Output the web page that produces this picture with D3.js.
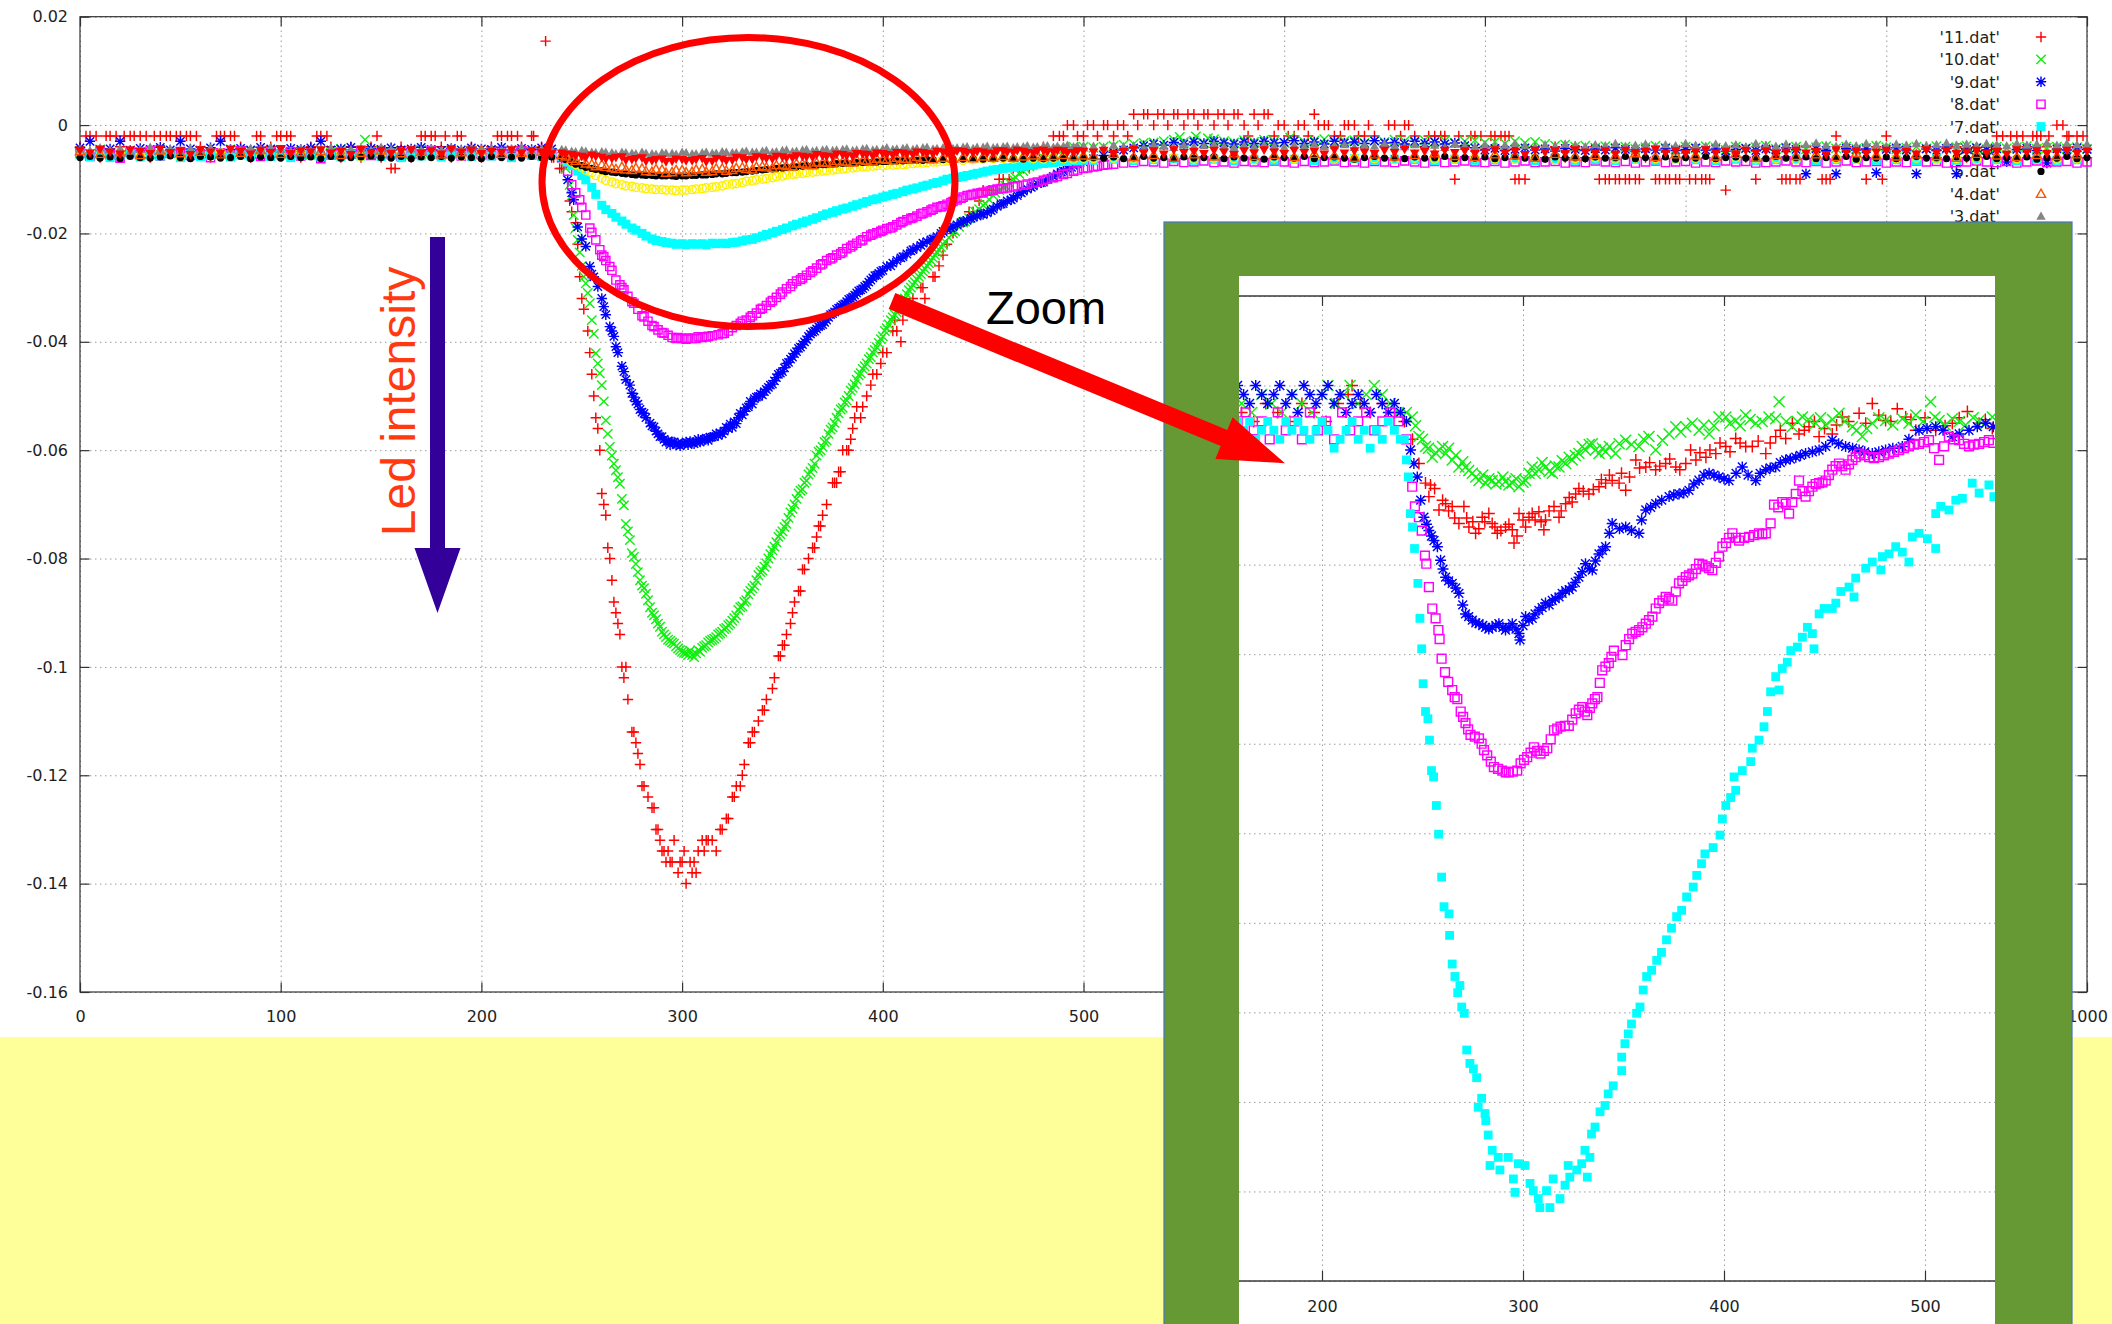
<!DOCTYPE html>
<html><head><meta charset="utf-8">
<script src="https://cdn.jsdelivr.net/npm/d3@7"></script>
<style>
html,body{margin:0;padding:0;background:#fff;}
svg{display:block;}
</style></head><body>
<svg id="chart" width="2112" height="1324"></svg>
<script>
// ================= DATA =================
const X_TICKS=[0,100,200,300,400,500,600,700,800,900,1000];
const X_TICK_LABELS=["0","100","200","300","400","500","600","700","800","900","1000"];
const Y_TICKS=[0.02,0,-0.02,-0.04,-0.06,-0.08,-0.1,-0.12,-0.14,-0.16];
const Y_TICK_LABELS=["0.02","0","-0.02","-0.04","-0.06","-0.08","-0.1","-0.12","-0.14","-0.16"];
const INSET_X_TICKS=[200,300,400,500];
const INSET_X_TICK_LABELS=["200","300","400","500"];
const INSET_Y_TICKS=[-0.002,-0.003,-0.004,-0.005,-0.006,-0.007,-0.008,-0.009,-0.010,-0.011,-0.012,-0.013];
const SERIES_NAMES=["'11.dat'","'10.dat'","'9.dat'","'8.dat'","'7.dat'","'6.dat'","'5.dat'","'4.dat'","'3.dat'","'2.dat'"];

// ---- '11.dat' (y values sampled every 5 in x) ----
const S11_PRE=[-.004,-.002,-.006,-.002,-.004,-.002,-.002,-.006,-.002,-.002,
-.002,-.002,-.004,-.006,-.002,-.002,-.004,-.006,-.002,-.004,
-.002,-.002,-.006,-.004,-.002,-.004,-.006,-.004,-.006,-.004,
-.006,-.008,-.004,-.006,-.002,-.002,-.004,-.006,-.002,-.004,
-.006,-.004,-.002,-.002,-.004,-.002,-.004,-.006];
const S11_DIP=[-.008,-.016,-.032,-.046,-.068,-.084,-.1,-.112,-.122,-.126,
-.134,-.136,-.136,-.138,-.132,-.132,-.13,-.124,-.12,-.112,
-.108,-.104,-.096,-.09,-.082,-.078,-.072,-.066,-.06,-.056,
-.052,-.046,-.042,-.038,-.036,-.032,-.03,-.028,-.024,-.02,
-.018,-.016,-.012,-.012,-.01,-.008,-.008,-.006,-.004,-.002,
-.002,0,-.002];
const S11_POST=[0,0,-.002,0,.002,.002,0,.002,.002,0,
.002,.002,0,.002,.002,0,.002,.002,-.002,0,
-.002,0,.002,0,-.002,0,0,-.002,-.002,-.004,
0,0,-.002,-.004,-.002,-.002,-.01,-.004,-.002,-.004,
-.002,-.002,-.01,-.01,-.004,-.006,-.004,-.006,-.004,-.006,
-.004,-.01,-.01,-.01,-.01,-.006,-.01,-.01,-.01,-.004,
-.01,-.01,-.006,-.012,-.004,-.006,-.01,-.004,-.006,-.01,
-.01,-.004,-.006,-.01,-.002,-.004,-.006,-.01,-.004,-.002,
-.006,-.004,-.006,-.004,-.006,-.004,-.004,-.006,-.006,-.004,
-.002,-.006,-.002,-.004,-.002,-.004,0,-.002,-.004,-.006];
const S11_EXTRA=[[232,.0155],[3,-.002],[8,-.002],[13,-.002],[18,-.002],[22,-.002],[27,-.002],[33,-.002],[37,-.002],[43,-.002],[48,-.002],[53,-.002],[58,-.002],[68,-.002],[72,-.002],[77,-.002],[88,-.002],[98,-.002],[103,-.002],[118,-.002],[123,-.002],[148,-.002],[157,-.008],[172,-.002],[177,-.002],[182,-.002],[188,-.002],[208,-.002],[213,-.002],[218,-.002],[226,-.002],
[236,-.006],[239,-.008],[244,-.014],[247,-.018],[248,-.022],[249,-.028],[251,-.034],[253,-.038],[254,-.042],[256,-.05],[257,-.054],[258,-.056],[259,-.06],[261,-.07],[262,-.072],[263,-.078],[264,-.08],[266,-.088],[267,-.09],[268,-.092],[269,-.094],[271,-.102],[272,-.1],[273,-.106],[276,-.112],[277,-.114],[278,-.116],[279,-.118],[281,-.122],[283,-.124],[286,-.126],[287,-.13],[288,-.13],[289,-.132],[291,-.134],[292,-.136],[293,-.134],[294,-.136],[296,-.132],[298,-.138],[299,-.136],[301,-.134],[302,-.14],[304,-.136],[306,-.136],[307,-.138],[308,-.134],[311,-.134],[312,-.132],[313,-.132],[317,-.134],[319,-.13],[322,-.128],[323,-.128],[326,-.124],[327,-.122],[329,-.122],[331,-.118],[333,-.114],[334,-.114],[336,-.112],[338,-.11],[341,-.108],[342,-.106],[346,-.102],[348,-.098],[349,-.098],[351,-.096],[352,-.094],[354,-.092],[356,-.088],[358,-.086],[359,-.086],[361,-.082],[363,-.08],[366,-.078],[367,-.076],[368,-.074],[369,-.074],[372,-.07],[376,-.066],[377,-.066],[378,-.064],[379,-.064],[382,-.06],[383,-.06],[384,-.058],[386,-.054],[387,-.052],[389,-.054],[392,-.05],[394,-.048],[397,-.046],[399,-.044],[402,-.042],[406,-.036],[407,-.038],[409,-.04],[419,-.03],[421,-.032],[426,-.028],[428,-.026],[432,-.022],[443,-.016],[448,-.014],[453,-.012],[458,-.01],[463,-.01],[468,-.008],[473,-.008],[478,-.006],
[488,-.002],[492,0],[497,-.002],[502,0],[507,-.002],[512,0],[517,0],[522,-.002],[527,0],[532,.002],[537,.002],[542,0],[547,.002],[552,.002],[557,0],[562,.002],[567,.002],[572,0],[577,.002],[582,-.002],[587,0],[592,.002],[597,0],[602,-.002],[607,0],[612,-.002],[617,0],[622,0],[628,-.002],[632,0],[637,-.002],[642,0],[652,0],[658,-.002],[662,0],[672,-.002],[678,-.002],[687,-.002],[693,-.002],[698,-.002],[703,-.002],[708,-.002],[712,-.002],[717,-.01],[757,-.01],[762,-.01],[767,-.01],[772,-.01],[777,-.01],[787,-.01],[792,-.01],[797,-.01],[802,-.01],[808,-.01],[812,-.01],[848,-.01],[852,-.01],[857,-.01],[868,-.01],[872,-.01],[898,-.01],
[958,-.002],[962,-.002],[968,-.002],[973,-.002],[977,-.002],[981,-.002],[988,0],[991,-.002],[995,-.002],[998,-.002]];

// ---- '10.dat' ----
const S10_PRE=[-.0048,-.0053,-.0045,-.0051,-.0056,-.0047,-.005,-.0054,-.0046,-.0052,
-.0049,-.0055,-.0047,-.005,-.0053,-.0045,-.0051,-.0048,-.0054,-.005,
-.0046,-.0052,-.0049,-.0055,-.0047,-.0051,-.0044,-.0053,-.0049,-.0056,
-.0047,-.0051,-.0048,-.0054,-.0046,-.005,-.0053,-.0048,-.0051,-.0047,
-.0055,-.0049,-.0052,-.0046,-.005,-.0053,-.0048,-.0051];
const S10_DIP=[-.006,-.013,-.026,-.036,-.048,-.061,-.069,-.079,-.085,-.09,
-.0935,-.0955,-.0972,-.0978,-.0965,-.095,-.0935,-.0915,-.0888,-.0855,
-.0822,-.0785,-.075,-.0708,-.0672,-.0633,-.0594,-.0558,-.0522,-.0485,
-.045,-.042,-.039,-.0355,-.0325,-.0295,-.027,-.0245,-.022,-.02,
-.018,-.0165,-.0148,-.013,-.0115,-.01,-.0085,-.007,-.006,-.005,
-.0045,-.004,-.004];
const S10_POST=[-.0042,-.004,-.0038,-.0036,-.0035,-.0033,-.0032,-.003,-.0027,-.0031,
-.0029,-.0033,-.0026,-.003,-.0032,-.0028,-.0031,-.0027,-.003,-.0033,
-.0028,-.0031,-.0029,-.0026,-.0032,-.003,-.0028,-.0033,-.0029,-.0031,
-.0027,-.003,-.0032,-.0028,-.0031,-.0029,-.0033,-.003,-.0028,-.0032,
-.0031,-.0034,-.003,-.0033,-.0031,-.0035,-.0038,-.0036,-.004,-.0038,
-.0042,-.0039,-.0043,-.004,-.0044,-.0041,-.0038,-.0042,-.0045,-.004,
-.0043,-.0039,-.0042,-.0046,-.004,-.0043,-.0041,-.0038,-.0044,-.0042,
-.004,-.0045,-.0041,-.0039,-.0043,-.004,-.0044,-.0042,-.0038,-.0041,
-.0045,-.0042,-.004,-.0043,-.0039,-.0044,-.0041,-.0038,-.0042,-.0045,
-.004,-.0043,-.0041,-.0039,-.0044,-.0042,-.004,-.0043,-.0041,-.0044];
const S10_EXTRA=[[142,-.0027],[548,-.0022],[556,-.0021],[562,-.0024],[603,-.0023],
[242,-.008],[244,-.011],[246,-.0166],[247,-.019],[248,-.0212],[249,-.0235],[251,-.028],[252,-.0292],[253,-.031],[254,-.0329],[256,-.0385],[257,-.0421],[258,-.044],[259,-.0458],[261,-.051],[262,-.0545],[263,-.057],[264,-.0594],[266,-.0625],[267,-.0637],[268,-.065],[269,-.0662],[271,-.0702],[272,-.0736],[273,-.075],[274,-.0766],[276,-.0797],[277,-.081],[278,-.0825],[279,-.084],[281,-.0855],[282,-.0865],[283,-.0877],[284,-.089],[286,-.0905],[287,-.0912],[288,-.092],[289,-.0926],[291,-.094],[292,-.0945],[293,-.095],[294,-.0952],[296,-.0957],[297,-.0962],[298,-.0966],[299,-.0969],[301,-.0974],[302,-.0975],[303,-.0978],[304,-.097],[306,-.0982],[307,-.0975],[308,-.0969],[309,-.0972],[311,-.0962],[312,-.096],[313,-.0955],[314,-.0952],[316,-.0948],[317,-.0945],[318,-.094],[319,-.0938],[321,-.093],[322,-.0928],[323,-.0923],[324,-.092],[326,-.091],[327,-.0905],[328,-.0895],[329,-.089],[331,-.088],[332,-.0877],[333,-.0866],[334,-.086],[336,-.085],[337,-.084],[338,-.0831],[339,-.0825],[341,-.0815],[342,-.0809],[343,-.08],[344,-.0792],[346,-.0778],[347,-.077],[348,-.076],[349,-.0755],[351,-.0742],[352,-.0736],[353,-.0725],[354,-.0715],[356,-.07],[357,-.069],[358,-.068],[359,-.0675],[361,-.066],[362,-.0656],[363,-.0645],[364,-.064],[366,-.0625],[367,-.061],[368,-.0603],[369,-.06],[371,-.0585],[372,-.0582],[373,-.057],[374,-.0562],[376,-.055],[377,-.054],[378,-.0532],[379,-.0525],[381,-.0512],[382,-.0508],[383,-.05],[384,-.049],[386,-.0478],[387,-.047],[388,-.0462],[389,-.0458],[391,-.0445],[392,-.044],[393,-.0432],[394,-.0428],[396,-.0415],[397,-.041],[398,-.0402],[399,-.0395],[401,-.038],[402,-.0375],[403,-.0368],[404,-.036],[406,-.035],[407,-.0345],[408,-.0338],[409,-.033],[411,-.032],[412,-.0312],[413,-.0305],[414,-.03],[416,-.029],[417,-.0285],[418,-.028],[419,-.0275],[421,-.0265],[422,-.026],[423,-.0255],[424,-.025],[426,-.024],[427,-.0235],[428,-.023],[429,-.0225],[431,-.0215],[433,-.0208],[436,-.0196],[438,-.0188],[441,-.0178],[443,-.0172],[446,-.016],[448,-.0155],[451,-.0145],[453,-.0138],[456,-.0125],[458,-.012],[461,-.0112],[463,-.0106],[466,-.0096],[468,-.009],[471,-.008],[473,-.0076],[477,-.0066]];

// ---- '9.dat' ----
const S9_PRE=[-.0042,-.003,-.0046,-.0044,-.003,-.0047,-.0043,-.0045,-.0041,-.0046,
-.003,-.0044,-.0047,-.0042,-.003,-.0045,-.0043,-.0046,-.0041,-.0044,
-.0047,-.0043,-.0045,-.0042,-.003,-.0046,-.0044,-.0041,-.0047,-.0043,
-.0045,-.0042,-.0046,-.0044,-.0041,-.0045,-.0047,-.0043,-.0046,-.0042,
-.0044,-.0045,-.0041,-.0046,-.0043,-.0045,-.0042,-.0044];
const S9_DIP=[-.006,-.0125,-.021,-.0275,-.032,-.038,-.0445,-.0495,-.053,-.0555,
-.0575,-.0585,-.0588,-.0586,-.0582,-.0576,-.057,-.0558,-.0535,-.0515,
-.0498,-.0478,-.0455,-.0428,-.0405,-.0382,-.0368,-.0348,-.0332,-.0317,
-.0302,-.0282,-.0268,-.0255,-.0243,-.023,-.0218,-.021,-.0196,-.0188,
-.0178,-.017,-.0165,-.0155,-.0145,-.0135,-.0122,-.0112,-.0105,-.0095,
-.0085,-.0075,-.0068];
const S9_POST=[-.0062,-.0056,-.005,-.0046,-.0042,-.0038,-.0035,-.0037,-.0032,-.0035,
-.0031,-.0034,-.003,-.0033,-.0035,-.0031,-.0034,-.003,-.0033,-.0032,
-.0029,-.0034,-.0031,-.0035,-.003,-.0033,-.0031,-.0034,-.0029,-.0033,
-.0032,-.0035,-.003,-.0034,-.0031,-.0035,-.0033,-.0038,-.0042,-.0046,
-.0043,-.0047,-.0045,-.0042,-.0046,-.0044,-.0048,-.0043,-.0045,-.0047,
-.0044,-.0046,-.0042,-.0045,-.0048,-.0044,-.0046,-.0043,-.0047,-.0045,
-.0042,-.0046,-.0044,-.0048,-.0045,-.0043,-.0047,-.0044,-.0046,-.0042,
-.0045,-.009,-.0044,-.0047,-.009,-.0043,-.0046,-.0044,-.0088,-.0045,
-.0042,-.0046,-.009,-.0044,-.0047,-.0043,-.009,-.0045,-.0042,-.0046,
-.0044,-.0068,-.0045,-.0043,-.0047,-.007,-.0044,-.0046,-.0042,-.0045];
const S9_EXTRA=[[243,-.0101],[246,-.0138],[248,-.0188],[252,-.0224],[254,-.0261],[256,-.028],[258,-.0298],[261,-.0335],[262,-.035],[264,-.0372],[266,-.039],[267,-.0409],[268,-.042],[271,-.0455],[272,-.047],[274,-.048],[276,-.0502],[277,-.051],[278,-.0515],[279,-.0525],[281,-.0532],[282,-.054],[284,-.055],[286,-.0557],[287,-.0565],[288,-.057],[289,-.0575],[291,-.058],[292,-.0585],[293,-.0583],[294,-.059],[296,-.0585],[297,-.059],[298,-.0588],[299,-.0592],[301,-.0588],[302,-.0585],[303,-.059],[304,-.0584],[306,-.0588],[307,-.0585],[308,-.058],[309,-.0585],[311,-.058],[312,-.0578],[313,-.0582],[314,-.0576],[316,-.0575],[317,-.057],[318,-.0573],[319,-.0568],[321,-.0565],[322,-.0558],[323,-.056],[324,-.0552],[326,-.0548],[327,-.0551],[328,-.054],[329,-.0532],[331,-.0528],[332,-.0522],[333,-.052],[334,-.051],[336,-.0505],[337,-.0502],[338,-.0501],[339,-.0496],[341,-.0492],[342,-.0488],[343,-.0484],[344,-.048],[346,-.0472],[347,-.0466],[348,-.046],[349,-.0458],[351,-.0448],[352,-.044],[353,-.0438],[354,-.0432],[356,-.0422],[357,-.0418],[358,-.0412],[359,-.041],[361,-.04],[362,-.0396],[363,-.039],[364,-.0386],[366,-.038],[367,-.0376],[368,-.0372],[369,-.037],[371,-.0364],[372,-.036],[373,-.0355],[374,-.035],[376,-.0345],[377,-.034],[378,-.0338],[379,-.0335],[381,-.033],[382,-.0326],[383,-.0322],[384,-.032],[386,-.0314],[387,-.031],[388,-.0306],[389,-.0304],[391,-.0298],[392,-.0295],[393,-.029],[394,-.0286],[396,-.0278],[397,-.0277],[398,-.0274],[399,-.027],[402,-.0261],[404,-.026],[407,-.025],[409,-.0245],[412,-.0238],[414,-.0232],[417,-.0226],[419,-.0222],[422,-.0215],[424,-.0212],[427,-.0206],[429,-.02],[432,-.0192],[434,-.019],[437,-.0184],[439,-.018],[442,-.0176],[444,-.0172],[447,-.0168],[449,-.0164],[452,-.0162],[454,-.0158],[457,-.015],[459,-.0146],[462,-.014],[464,-.0138],[467,-.013],[469,-.0125],[472,-.0118],[474,-.0115],[477,-.0108],[479,-.0106],[482,-.01],[484,-.0098],[487,-.009],[489,-.0087],[492,-.008],[494,-.0078],[497,-.0072]];

// ---- '8.dat' ----
const S8_PRE=[-.0052,-.0058,-.0049,-.0055,-.0061,-.005,-.0054,-.0047,-.0057,-.0052,
-.0049,-.0056,-.0053,-.006,-.0051,-.0055,-.0048,-.0053,-.0058,-.005,
-.0054,-.0049,-.0057,-.0052,-.0062,-.0055,-.005,-.0053,-.0048,-.0056,
-.0051,-.0054,-.0058,-.005,-.0053,-.0047,-.0055,-.0051,-.0057,-.0049,
-.0053,-.0056,-.005,-.0054,-.0048,-.0055,-.0052,-.0054];
const S8_DIP=[-.006,-.011,-.0152,-.0198,-.024,-.0268,-.03,-.0326,-.0352,-.037,
-.0383,-.0392,-.0394,-.0394,-.0392,-.0389,-.0385,-.0374,-.0362,-.0352,
-.0338,-.0324,-.0308,-.0293,-.0282,-.0269,-.0256,-.0245,-.0234,-.0222,
-.0212,-.0201,-.0194,-.0188,-.0178,-.0171,-.0163,-.0155,-.0149,-.0141,
-.0133,-.0128,-.0124,-.012,-.0117,-.0114,-.0111,-.0107,-.0102,-.0097,
-.0091,-.0085,-.008];
const S8_POST=[-.0077,-.0074,-.0072,-.007,-.0069,-.0067,-.0068,-.007,-.0067,-.0069,
-.0068,-.0066,-.0069,-.0068,-.007,-.0067,-.0068,-.0069,-.0066,-.0068,
-.007,-.0067,-.0069,-.0068,-.0066,-.0069,-.0068,-.007,-.0067,-.0068,
-.0069,-.0066,-.0068,-.007,-.0067,-.0069,-.0068,-.0066,-.0068,-.0069,
-.0067,-.007,-.0068,-.0066,-.0069,-.0068,-.0067,-.007,-.0068,-.0069,
-.0066,-.0068,-.0069,-.0067,-.007,-.0068,-.0066,-.0069,-.0068,-.0067,
-.007,-.0068,-.0069,-.0066,-.0068,-.0067,-.007,-.0069,-.0068,-.0066,
-.0068,-.0069,-.0067,-.007,-.0068,-.0066,-.0069,-.0068,-.0067,-.007,
-.0068,-.0069,-.0066,-.0068,-.0067,-.007,-.0069,-.0068,-.0066,-.0068,
-.0069,-.0067,-.007,-.0068,-.0066,-.0069,-.0068,-.0067,-.007,-.0068];
const S8_EXTRA=[[243,-.0085],[247,-.0125],[249,-.0138],[252,-.0166],[254,-.019],[257,-.0212],[259,-.023],[261,-.0243],[262,-.025],[264,-.0261],[267,-.0286],[269,-.0295],[271,-.0304],[273,-.0316],[276,-.0329],[278,-.034],[281,-.0354],[283,-.0362],[286,-.0372],[288,-.0378],[291,-.0384],[293,-.0388],[297,-.0394],[298,-.0392],[302,-.0395],[303,-.0393],[307,-.0394],[308,-.0391],[312,-.0391],[313,-.039],[318,-.0387],[321,-.0384],[323,-.038],[327,-.037],[329,-.0366],[332,-.036],[334,-.0355],[337,-.0347],[339,-.034],[342,-.0333],[344,-.0327],[347,-.0318],[349,-.0312],[352,-.0302],[354,-.0298],[357,-.0288],[359,-.0285],[362,-.0277],[364,-.0272],[367,-.0264],[369,-.0258],[372,-.025],[374,-.0247],[377,-.024],[379,-.0237],[382,-.0228],[384,-.0225],[387,-.0218],[389,-.0214],[392,-.0206],[394,-.0203],[397,-.0199],[399,-.0196],[402,-.0191],[404,-.019],[407,-.0184],[409,-.018],[412,-.0175],[414,-.0172],[417,-.0168],[419,-.0164],[422,-.016],[424,-.0157],[427,-.0152],[429,-.0151],[432,-.0146],[434,-.0143],[437,-.0138],[439,-.0135],[442,-.013],[444,-.0129],[447,-.0126],[449,-.0125],[452,-.0122],[454,-.0121],[457,-.0118],[459,-.0117],[462,-.0116],[467,-.0112],[472,-.0109],[477,-.0105],[482,-.01],[487,-.0095],[492,-.0089],[497,-.0083],[502,-.0079],[507,-.0076],[512,-.0073]];

// ---- '7.dat' ----
const S7_PRE=[-.0055,-.0058,-.0052,-.006,-.0056,-.0053,-.0059,-.0055,-.0057,-.0052,
-.006,-.0054,-.0058,-.0056,-.0053,-.0059,-.0055,-.0057,-.0052,-.0058,
-.0054,-.006,-.0056,-.0053,-.0058,-.0055,-.0059,-.0054,-.0057,-.0052,
-.0058,-.0055,-.006,-.0053,-.0057,-.0055,-.0059,-.0054,-.0056,-.0058,
-.0053,-.0057,-.0055,-.006,-.0054,-.0056,-.0058,-.0055];
const S7_DIP=[-.0058,-.0075,-.0093,-.0115,-.0148,-.0163,-.0177,-.019,-.02,-.021,
-.0215,-.0218,-.0219,-.0219,-.0219,-.0218,-.0218,-.0217,-.0214,-.0211,
-.0205,-.0199,-.0193,-.0186,-.018,-.0174,-.0167,-.0161,-.0155,-.015,
-.0144,-.0138,-.0133,-.0128,-.0123,-.0118,-.0113,-.0108,-.0103,-.0098,
-.0095,-.0091,-.0087,-.0083,-.008,-.0078,-.0076,-.0074,-.0071,-.0069,
-.0067,-.0066,-.0065];
const S7_POST=[-.0065,-.0063,-.0066,-.0064,-.0062,-.0065,-.0063,-.0066,-.0064,-.0065,
-.0063,-.0066,-.0064,-.0062,-.0065,-.0063,-.0064,-.0066,-.0063,-.0065,
-.0064,-.0062,-.0066,-.0063,-.0065,-.0064,-.0066,-.0063,-.0065,-.0062,
-.0064,-.0066,-.0063,-.0065,-.0064,-.0062,-.0066,-.0064,-.0063,-.0065,
-.0064,-.0066,-.0062,-.0065,-.0063,-.0064,-.0066,-.0063,-.0065,-.0064];
const S7_EXTRA=[[243,-.0068],[248,-.0085],[252,-.0101],[257,-.0128],[262,-.0156],[267,-.017],[272,-.0183],[277,-.0194],[282,-.0205],[287,-.0213],[292,-.0217],[297,-.022],[302,-.0221],[307,-.022],[312,-.0221],[317,-.0219],[322,-.0219],[327,-.0216],[332,-.0212],[337,-.0208],[342,-.0202],[347,-.0196],[352,-.019],[357,-.0183],[362,-.0177],[367,-.0171],[372,-.0164],[377,-.0158],[382,-.0153],[387,-.0147],[392,-.0141],[397,-.0136],[402,-.0131],[407,-.0126],[412,-.012],[417,-.0116],[422,-.0111],[427,-.0106],[432,-.01],[437,-.0097],[442,-.0093],[447,-.0089],[452,-.0085],[457,-.0082],[462,-.0079],[467,-.0077],[472,-.0075],[477,-.0072],[482,-.007],[487,-.0068],[492,-.0067],[497,-.0066]];

// ---- '6.dat' (pre/post sampled every 10) ----
const S6_PRE=[-.0053,-.0057,-.005,-.0055,-.0052,-.0058,-.0054,-.0051,-.0056,-.0053,-.0057,-.005,-.0055,-.0052,-.0058,-.0054,-.0051,-.0056,-.0053,-.0057,-.005,-.0055,-.0052,-.0056];
const S6_DIP=[-.0056,-.0068,-.0078,-.0088,-.0098,-.0105,-.011,-.0113,-.0116,-.0118,
-.0119,-.012,-.012,-.0119,-.0117,-.0115,-.0112,-.0109,-.0106,-.0103,
-.01,-.0097,-.0094,-.0091,-.0089,-.0087,-.0085,-.0083,-.0081,-.0079,
-.0077,-.0076,-.0075,-.0074,-.0073,-.0071,-.007,-.0068,-.0067,-.0066,
-.0065,-.0064,-.0063,-.0062,-.0062,-.0063,-.0061,-.0062,-.0063,-.0061,
-.0062,-.0063,-.0061];
const S6_POST=[-.0062,-.0061,-.0063,-.0062,-.006,-.0063,-.0061,-.0062,-.0064,-.0061,
-.0062,-.006,-.0063,-.0061,-.0062,-.0064,-.0061,-.0063,-.0062,-.006,
-.0062,-.0063,-.0061,-.0064,-.0062,-.006,-.0063,-.0061,-.0062,-.0063,
-.0061,-.0062,-.006,-.0063,-.0062,-.0064,-.0061,-.0062,-.0063,-.006,
-.0062,-.0061,-.0063,-.0062,-.0064,-.0061,-.0062,-.006,-.0063,-.0062];
const S6_EXTRA=[[242,-.0062],[247,-.0073],[252,-.0083],[257,-.0093],[262,-.0102],[267,-.0108],[272,-.0112],[277,-.0115],[282,-.0117],[287,-.0119],[292,-.012],[297,-.0121],[302,-.012],[307,-.0118],[312,-.0116],[317,-.0114],[322,-.011],[327,-.0108],[332,-.0104],[337,-.0101],[342,-.0099],[347,-.0095],[352,-.0092],[357,-.009],[362,-.0088],[367,-.0086],[372,-.0084],[377,-.0082],[382,-.008],[387,-.0078],[392,-.0077],[397,-.0075],[402,-.0074],[407,-.0073],[412,-.0072],[417,-.007],[422,-.0069],[427,-.0068],[432,-.0066]];

// ---- '5.dat' ----
const S5_PRE=[-.006,-.0058,-.0061,-.0059,-.0062,-.0058,-.006,-.0061,-.0059,-.0057,
-.006,-.0062,-.0058,-.0059,-.0061,-.006,-.0058,-.0062,-.0059,-.006,
-.0061,-.0058,-.006,-.0059,-.0062,-.0058,-.0061,-.006,-.0059,-.0057,
-.006,-.0061,-.0058,-.0062,-.0059,-.006,-.0058,-.0061,-.0059,-.006,
-.0062,-.0058,-.006,-.0059,-.0061,-.0058,-.006,-.0059];
const S5_DIP=[-.006,-.0068,-.0075,-.008,-.0084,-.0087,-.0089,-.0091,-.0092,-.0093,
-.0094,-.0094,-.0094,-.0093,-.0092,-.0091,-.009,-.0088,-.0087,-.0085,
-.0083,-.0081,-.0079,-.0077,-.0076,-.0075,-.0073,-.0072,-.0071,-.007,
-.0069,-.0068,-.0067,-.0066,-.0066,-.0065,-.0065,-.0064,-.0064,-.0063,
-.0063,-.0062,-.0063,-.0062,-.0061,-.0062,-.0063,-.0061,-.0062,-.0061,
-.0062,-.006,-.0061];
const S5_POST=[-.006,-.0061,-.0059,-.0062,-.006,-.0058,-.0061,-.006,-.0062,-.0059,
-.0061,-.006,-.0058,-.0062,-.0059,-.0061,-.006,-.0063,-.0059,-.006,
-.0061,-.0058,-.0062,-.006,-.0059,-.0061,-.0063,-.006,-.0058,-.0061,
-.006,-.0062,-.0059,-.0061,-.006,-.0058,-.0062,-.006,-.0061,-.0059,
-.0062,-.006,-.0058,-.0061,-.006,-.0063,-.0059,-.0061,-.006,-.0062,
-.0059,-.0061,-.006,-.0058,-.0062,-.006,-.0061,-.0059,-.0063,-.006,
-.0061,-.0058,-.0062,-.006,-.0059,-.0061,-.006,-.0062,-.0058,-.0061,
-.006,-.0059,-.0062,-.006,-.0061,-.0058,-.0063,-.006,-.0061,-.0059,
-.0062,-.006,-.0058,-.0061,-.006,-.0062,-.0059,-.0061,-.006,-.0058,
-.0062,-.006,-.0061,-.0059,-.0063,-.006,-.0061,-.0058,-.0062,-.006];
const S5_EXTRA=[[242,-.0064],[247,-.0072],[252,-.0078],[257,-.0082],[262,-.0086],[267,-.0088],[272,-.009],[277,-.0092],[282,-.0093],[287,-.0094],[292,-.0094],[297,-.0095],[302,-.0094],[307,-.0093],[312,-.0092],[317,-.009],[322,-.0089],[327,-.0088],[332,-.0086],[337,-.0084],[342,-.0082],[347,-.008],[352,-.0078],[357,-.0077],[362,-.0075],[367,-.0074],[372,-.0073],[377,-.0071],[382,-.007],[387,-.0069],[392,-.0068],[397,-.0068],[402,-.0067],[407,-.0066],[412,-.0065],[417,-.0065],[422,-.0064]];

// ---- '4.dat' (pre/post sampled every 10) ----
const S4_PRE=[-.0048,-.0053,-.005,-.0055,-.0047,-.0052,-.0049,-.0054,-.0051,-.0046,-.0053,-.005,-.0048,-.0055,-.0051,-.0047,-.0052,-.0049,-.0054,-.005,-.0046,-.0053,-.0051,-.0049];
const S4_DIP=[-.0055,-.0062,-.0066,-.0072,-.0073,-.0079,-.0077,-.0083,-.008,-.0086,
-.0082,-.0087,-.0083,-.0086,-.0081,-.0085,-.008,-.0083,-.0078,-.0082,
-.0076,-.0079,-.0073,-.0076,-.0071,-.0074,-.0069,-.0071,-.0067,-.0069,
-.0065,-.0067,-.0063,-.0065,-.0062,-.0064,-.0061,-.0063,-.006,-.0062,
-.0059,-.0061,-.0058,-.006,-.0057,-.006,-.0058,-.0056,-.0059,-.0057,
-.0055,-.0058,-.0056];
const S4_POST=[-.0057,-.0053,-.0059,-.0055,-.006,-.0054,-.0058,-.0052,-.0057,-.0055,
-.0059,-.0053,-.0056,-.006,-.0054,-.0058,-.0055,-.0052,-.0057,-.0059,
-.0054,-.0056,-.006,-.0053,-.0058,-.0055,-.0057,-.0052,-.0059,-.0054,
-.0056,-.0058,-.0053,-.006,-.0055,-.0057,-.0054,-.0059,-.0052,-.0056,
-.0058,-.0054,-.0057,-.006,-.0053,-.0056,-.0059,-.0055,-.0057,-.0054];
const S4_EXTRA=[[242,-.0058],[247,-.0066],[252,-.0071],[257,-.0076],[262,-.0077],[267,-.0081],[272,-.0082],[277,-.0079],[282,-.0085],[287,-.0081],[292,-.0088],[297,-.0083],[302,-.0087],[307,-.0082],[312,-.0086],[317,-.008],[322,-.0084],[327,-.0079],[332,-.0081],[337,-.0077],[342,-.0078],[347,-.0074],[352,-.0076],[357,-.0071],[362,-.0073],[367,-.0069],[372,-.007],[377,-.0066],[382,-.0068],[387,-.0064],[392,-.0066],[397,-.0062],[402,-.0064],[407,-.006],[412,-.0063],[417,-.0059]];

// ---- '3.dat' ----
const S3_PRE=[-.0044,-.0047,-.0042,-.0046,-.0043,-.0048,-.0045,-.0041,-.0046,-.0044,
-.0047,-.0043,-.0045,-.0042,-.0048,-.0044,-.0046,-.0043,-.0047,-.0041,
-.0045,-.0048,-.0043,-.0046,-.0044,-.0042,-.0047,-.0045,-.0043,-.0046,
-.0041,-.0045,-.0048,-.0044,-.0046,-.0043,-.0047,-.0042,-.0045,-.0044,
-.0047,-.0043,-.0046,-.0044,-.0042,-.0046,-.0044,-.0045];
const S3_DIP=[-.0045,-.0048,-.0047,-.005,-.0049,-.0051,-.005,-.0052,-.005,-.0053,
-.0051,-.0052,-.005,-.0053,-.0051,-.0052,-.0049,-.0051,-.0049,-.005,
-.0048,-.005,-.0047,-.0049,-.0046,-.0048,-.0046,-.0047,-.0045,-.0047,
-.0044,-.0046,-.0044,-.0045,-.0043,-.0045,-.0042,-.0044,-.0042,-.0043,
-.0041,-.0043,-.0041,-.0042,-.004,-.0042,-.004,-.0041,-.0039,-.0041,
-.0039,-.004,-.0038];
const S3_POST=[-.0039,-.0041,-.0037,-.004,-.0038,-.0042,-.0036,-.0039,-.0041,-.0037,
-.004,-.0038,-.0035,-.0039,-.0041,-.0037,-.004,-.0036,-.0038,-.0041,
-.0037,-.0039,-.0035,-.004,-.0038,-.0036,-.0041,-.0037,-.0039,-.0035,
-.0038,-.004,-.0036,-.0039,-.0037,-.0041,-.0035,-.0038,-.004,-.0036,
-.0039,-.0037,-.0034,-.0038,-.004,-.0036,-.0039,-.0035,-.0037,-.004,
-.0036,-.0038,-.0034,-.0039,-.0037,-.0035,-.004,-.0036,-.0038,-.0034,
-.0037,-.0039,-.0035,-.0038,-.0036,-.004,-.0034,-.0037,-.0039,-.0035,
-.0038,-.0036,-.0033,-.0037,-.0039,-.0035,-.0038,-.0034,-.0036,-.0039,
-.0035,-.0037,-.0034,-.0038,-.0036,-.0033,-.0037,-.0035,-.0038,-.0034,
-.0036,-.0038,-.0034,-.0037,-.0035,-.0033,-.0037,-.0034,-.0036,-.0035];
const S3_EXTRA=[[242,-.0046],[247,-.0049],[252,-.0048],[257,-.0051],[262,-.005],[267,-.0053],[272,-.0051],[277,-.0053],[282,-.0052],[287,-.0054],[292,-.0052],[297,-.0054],[302,-.0051],[307,-.0053],[312,-.005],[317,-.0052],[322,-.005],[327,-.0051],[332,-.0048],[337,-.005],[342,-.0047],[347,-.0049],[352,-.0046],[357,-.0048],[362,-.0045],[367,-.0047],[372,-.0045],[377,-.0046],[382,-.0044],[387,-.0046],[392,-.0043],[397,-.0045],[402,-.0042],[407,-.0044],[412,-.0042],[417,-.0043],[422,-.0041],[427,-.0043],[432,-.004],[437,-.0042],[442,-.004],[447,-.0041],[452,-.0039],[457,-.0041],[462,-.0039],[467,-.004],[472,-.0038],[477,-.004],[482,-.0038],[487,-.0039],[492,-.0037],[497,-.0039]];

// ---- '2.dat' ----
const S2_PRE=[-.0047,-.0052,-.0045,-.005,-.0054,-.0046,-.0049,-.0053,-.0044,-.0051,
-.0048,-.0055,-.0046,-.005,-.0052,-.0045,-.0049,-.0054,-.0047,-.0051,
-.0044,-.0053,-.0048,-.005,-.0046,-.0052,-.0049,-.0055,-.0045,-.0051,
-.0047,-.0053,-.0049,-.0046,-.0052,-.0048,-.0054,-.0045,-.005,-.0047,
-.0053,-.0049,-.0051,-.0046,-.0052,-.0048,-.005,-.0053];
const S2_DIP=[-.0052,-.0055,-.0058,-.0056,-.006,-.0062,-.0059,-.0064,-.0061,-.0066,
-.0063,-.0067,-.0064,-.0066,-.0062,-.0067,-.0063,-.0065,-.0061,-.0064,
-.006,-.0063,-.0059,-.0061,-.0058,-.006,-.0057,-.0059,-.0055,-.0058,
-.0054,-.0057,-.0053,-.0056,-.0052,-.0055,-.0051,-.0054,-.005,-.0053,
-.0049,-.0052,-.005,-.0053,-.0048,-.0051,-.0049,-.0052,-.0047,-.005,
-.0048,-.0051,-.0049];
const S2_POST=[-.005,-.0047,-.0053,-.0049,-.0045,-.0052,-.0048,-.0054,-.0046,-.0051,
-.0049,-.0053,-.0047,-.005,-.0055,-.0048,-.0052,-.0046,-.005,-.0053,
-.0047,-.0051,-.0049,-.0054,-.0046,-.0052,-.0048,-.005,-.0053,-.0047,
-.0051,-.0045,-.0052,-.0049,-.0054,-.0047,-.0051,-.0048,-.0053,-.005,
-.0046,-.0052,-.0049,-.0055,-.0047,-.0051,-.0048,-.0053,-.0046,-.005,
-.0052,-.0048,-.0054,-.0047,-.0051,-.0049,-.0045,-.0052,-.0048,-.0053,
-.005,-.0046,-.0052,-.0049,-.0054,-.0047,-.0051,-.0048,-.0053,-.005,
-.0047,-.0052,-.0049,-.0055,-.0046,-.0051,-.0048,-.0053,-.005,-.0047,
-.0052,-.0049,-.0054,-.0046,-.0051,-.0048,-.0053,-.005,-.0047,-.0052,
-.0049,-.0054,-.0046,-.0051,-.0048,-.0053,-.005,-.0047,-.0052,-.0049];
const S2_EXTRA=[[242,-.0054],[247,-.0057],[252,-.006],[257,-.0058],[262,-.0063],[267,-.006],[272,-.0065],[277,-.0062],[282,-.0067],[287,-.0064],[292,-.0068],[297,-.0063],[302,-.0066],[307,-.0064],[312,-.0068],[317,-.0062],[322,-.0066],[327,-.006],[332,-.0064],[337,-.0059],[342,-.0062],[347,-.0058],[352,-.0061],[357,-.0057],[362,-.0059],[367,-.0055],[372,-.0058],[377,-.0054],[382,-.0057],[387,-.0053],[392,-.0055],[397,-.0052],[402,-.0055],[407,-.0051],[412,-.0054],[417,-.005],[422,-.0053],[427,-.0049],[432,-.0052],[437,-.0048],[442,-.0051],[447,-.0049],[452,-.0052],[457,-.0048],[462,-.005],[467,-.0047],[472,-.0051],[477,-.0048],[482,-.005],[487,-.0047],[492,-.0051],[497,-.0048]];

// ---- Inset (zoomed plot) : [x, y] pairs ----
const INSET_11=[[160,-.0033],[166,-.0034],[172,-.0032],[178,-.0033],[184,-.0034],[190,-.0032],[196,-.0033],[202,-.0034],[208,-.0032],[213,-.0031],[215,-.003],[219,-.0032],[224,-.0033],[230,-.0032],[236,-.0033],[241,-.0034],[245,-.0036],
[248.2,-.00387],[251.5,-.00409],[254,-.00411],[253.2,-.00424],[256,-.00415],[258.2,-.00439],[260,-.00428],[261.5,-.00432],[263,-.0044],[264.8,-.00435],[266,-.00448],[268.1,-.00454],[270.6,-.00435],[272,-.00448],[273.1,-.00458],[275,-.00452],[276.4,-.00465],[278,-.0046],[279.7,-.00447],[281,-.00452],[283,-.00443],[284.7,-.00454],[286,-.00458],[287.2,-.00465],[289,-.00462],[291.3,-.00458],[293,-.00455],[294.7,-.00461],[295.5,-.00476],[297,-.00468],[298,-.00443],[300,-.0045],[301.3,-.00458],[303,-.00447],[304.6,-.00443],[306,-.0045],[307.9,-.00441],[309,-.00452],[310.4,-.00461],[311.2,-.0045],[313,-.0044],[315.4,-.00435],[317.9,-.00447],[319,-.0044],[321.2,-.00432],[323,-.00425],[324.5,-.0043],[326.2,-.00421],[327.8,-.00415],[330,-.00418],[332.8,-.00421],[335,-.00416],[337.8,-.00413],[339,-.00405],[341.1,-.00409],[343,-.004],[344.4,-.00406],[347.8,-.00409],[349,-.00398],[351.1,-.00417],[353,-.00402],[356.1,-.00383],[358,-.00392],[361.1,-.00391],[363,-.00386],[366,-.00394],[368,-.0039],[371,-.00387],[373,-.00382],[376,-.00391],[378,-.00394],[381,-.00387],[383.4,-.00372],[386,-.00383],[388,-.00375],[391,-.0038],[393,-.00372],[395.9,-.00376],[398,-.00364],[400.9,-.00368],[403,-.00374],[405.8,-.00359],[408,-.00364],[410.8,-.00368],[414.1,-.00368],[417,-.00362],[420.8,-.00376],[423,-.00364],[425.7,-.00357],[428,-.0035],[430.7,-.00359],[434,-.00342],[437.3,-.00354],[440,-.0035],[442.3,-.00346],[445,-.0034],[447.3,-.00357],[450,-.00348],[453.9,-.00354],[456,-.00344],[458.9,-.00335],[462,-.0034],[467.2,-.00331],[470.5,-.00342],[473.8,-.0032],[477,-.00333],[480.4,-.00339],[483,-.0034],[486.2,-.00326],[490.4,-.00335],[493,-.00338],[495.4,-.0035],[500,-.00336],[505.3,-.0035],[510,-.00345],[513.6,-.00342],[517,-.00336],[521.1,-.00329],[526.9,-.00342],[530,-.00338],[533.5,-.00348]];
const INSET_10=[[160,-.0032],[165,-.0033],[170,-.0031],[175,-.0032],[180,-.0033],[185,-.0031],[190,-.0032],[195,-.0033],[200,-.0031],[203,-.003],[207,-.0032],[211,-.0031],[214,-.003],[218,-.0032],[222,-.0031],[226,-.003],[230,-.0031],[234,-.0032],[238,-.0033],[242,-.0033],
[244.9,-.00335],[246.5,-.00345],[248.2,-.00357],[250,-.0036],[251.5,-.00368],[253,-.0037],[254.9,-.0038],[256.5,-.00375],[258.2,-.00372],[260,-.00368],[261.5,-.00376],[263,-.0037],[264.8,-.00383],[266.5,-.00378],[268.1,-.00391],[270,-.00385],[271.4,-.00391],[273,-.00395],[274.8,-.00398],[276.5,-.00402],[278.1,-.00406],[280,-.004],[281.4,-.00409],[283,-.00404],[284.7,-.00406],[286.5,-.0041],[288,-.00407],[290,-.00402],[291.3,-.00407],[293,-.00411],[294.7,-.00409],[296.5,-.00404],[298,-.00413],[300,-.00408],[301.3,-.00406],[303,-.00398],[304.6,-.00391],[306,-.00398],[307.9,-.00394],[309.5,-.00386],[311.2,-.00391],[313,-.00396],[314.6,-.00398],[316,-.0039],[317.9,-.00391],[319.5,-.00384],[321.2,-.00387],[323,-.0038],[324.5,-.00383],[326,-.00378],[327.8,-.00376],[329.5,-.00368],[331.1,-.00372],[333,-.00366],[334.5,-.00365],[336,-.00372],[337.8,-.00376],[339.5,-.0037],[341.1,-.00374],[343,-.00368],[346,-.00376],
[347.8,-.00365],[351.1,-.00361],[354,-.00366],[357.7,-.00368],[360,-.0036],[362.7,-.00357],[366,-.00372],[369.4,-.00361],[372.7,-.00354],[376,-.00346],[378.5,-.00352],[381,-.00346],[384.3,-.00342],[387.6,-.0035],[390,-.00344],[392.6,-.00354],[395,-.00345],[397.5,-.00335],[400.9,-.00335],[403,-.00342],[405.8,-.00339],[408,-.00345],[410.8,-.00333],[413,-.00338],[415.8,-.00342],[419,-.0034],[422.4,-.00335],[425.7,-.00337],[427.4,-.00318],[431,-.0034],[434,-.00346],[436.5,-.0034],[439,-.00335],[442,-.00338],[445.6,-.00342],[448,-.00336],[450.6,-.00344],[454,-.00338],[457.2,-.00331],[460,-.0034],[463.9,-.00346],[466,-.0035],[468.8,-.00357],[471,-.00348],[473.8,-.00342],[477,-.00336],[480.4,-.00339],[484,-.00344],[488.7,-.00337],[492,-.00342],[495.4,-.00333],[499,-.0034],[502.8,-.00318],[505,-.00335],[507,-.00339],[510,-.00344],[513.6,-.00337],[517,-.0034],[520.2,-.00344],[524,-.00336],[526.9,-.00339],[530,-.00343],[533.5,-.00335]];
const INSET_9=[[158,-.003],[161,-.0031],[164,-.0032],[167,-.003],[170,-.0031],[173,-.0032],[176,-.0031],[179,-.003],[182,-.0032],[185,-.0031],[188,-.0033],[191,-.003],[194,-.0031],[197,-.0032],[200,-.0031],[203,-.003],[206,-.0032],[209,-.0031],[212,-.0033],[215,-.0032],[218,-.0031],[221,-.0032],[224,-.0033],[227,-.0031],[230,-.0032],[233,-.0033],[236,-.0032],[239,-.0033],[242,-.0034],
[244.1,-.00372],[245.7,-.00387],[247.4,-.00402],[249.1,-.00428],[250.7,-.00447],[252,-.00455],[253.2,-.00462],[254.5,-.00468],[255.7,-.00473],[257.4,-.0048],[259,-.00495],[260.2,-.00505],[261.5,-.00514],[263,-.00518],[264.8,-.00521],[266.5,-.00526],[268.1,-.00532],[270,-.00545],[271.4,-.00555],[273,-.00558],[274.8,-.00562],[276.5,-.00565],[278.1,-.00566],[280,-.00568],[281.4,-.0057],[283,-.00572],[284.7,-.0057],[286.5,-.00568],[288,-.00566],[290,-.0057],[291.3,-.00573],[293,-.0057],[294.7,-.00566],[296.5,-.00572],[298,-.00577],[298.5,-.00584],[300,-.00568],[301.3,-.00558],[303,-.00562],[304.6,-.0056],[306,-.00555],[307.9,-.00551],[309.5,-.00548],[311.2,-.00543],[313,-.00545],[314.6,-.0054],[316,-.00538],[317.9,-.00536],[319.5,-.00532],[321.2,-.00529],[323,-.00528],[324.5,-.00525],[326,-.0052],[327.8,-.00514],[329.5,-.00508],[331.1,-.00499],[333,-.00504],[334.5,-.00506],[336,-.00496],[337.8,-.00488],[339.5,-.00484],[341.1,-.0048],[343,-.00465],[344.4,-.00454],
[348,-.0046],[351.1,-.00458],[354,-.00462],[357.7,-.00465],[359,-.0045],[361.1,-.00439],[363.5,-.00436],[366,-.00432],[369,-.00428],[372.7,-.00424],[375,-.00422],[377.6,-.00421],[380,-.0042],[382.6,-.00417],[385,-.0041],[387.6,-.00406],[390,-.004],[392.6,-.00398],[395,-.004],[397.5,-.00402],[400,-.00404],[402.5,-.00406],[406,-.00398],[409.1,-.00391],[412,-.004],[415.8,-.00406],[418,-.00398],[420.8,-.00394],[423,-.00392],[425.7,-.00391],[428,-.00386],[430.7,-.00383],[433,-.00382],[435.7,-.0038],[438,-.00378],[440.6,-.00376],[444,-.00374],[447.3,-.00372],[450.6,-.00368],[453.9,-.00361],[457,-.00365],[460.5,-.00368],[464,-.0037],[467.2,-.00372],[470,-.00374],[473.8,-.00376],[477,-.00374],[480.4,-.00372],[484,-.0037],[488.7,-.00368],[492,-.0036],[497,-.0035],[501,-.00348],[505.3,-.00346],[509,-.0035],[513.6,-.00357],[517,-.00354],[521.9,-.0035],[526,-.00346],[530.2,-.00342],[534,-.00346]];
const INSET_8=[[158,-.0034],[162,-.0033],[166,-.0035],[170,-.0034],[174,-.0036],[178,-.0033],[182,-.0035],[186,-.0034],[190,-.0036],[194,-.0033],[198,-.0035],[202,-.0034],[206,-.0036],[210,-.0033],[214,-.0035],[218,-.0034],[222,-.0033],[226,-.0035],[230,-.0034],[234,-.0033],[238,-.0034],[242,-.0036],
[244.9,-.00413],[246.2,-.00435],[248.2,-.00447],[249.6,-.00462],[251.2,-.0049],[251.9,-.00499],[253.2,-.00525],[254.9,-.00549],[256.5,-.0056],[257.9,-.00573],[258.5,-.00583],[259.5,-.00605],[261.2,-.0062],[262.8,-.00631],[264.8,-.0064],[266,-.00648],[267.3,-.0065],[269,-.00664],[270.2,-.0067],[271.4,-.00677],[272.7,-.00684],[273.9,-.0069],[276,-.00692],[278.1,-.00694],[279.4,-.007],[280.6,-.00707],[282.2,-.00713],[284,-.0072],[285.5,-.00726],[287.6,-.00728],[289.7,-.0073],[291.4,-.00732],[293,-.00732],[295,-.00731],[297.1,-.0073],[298.8,-.00722],[300.5,-.00718],[302.1,-.00715],[303.8,-.0071],[305.4,-.00704],[307,-.00708],[308.7,-.00711],[310.4,-.00708],[312.1,-.00705],[313.8,-.00695],[315.4,-.00685],[317,-.00683],[318.7,-.00681],[320.8,-.0068],[322.8,-.0068],[324.5,-.00673],[326.2,-.00666],[327.8,-.00662],[329.5,-.00659],[330.8,-.00664],[332,-.00668],[333.3,-.0066],[334.5,-.00655],[335.8,-.0065],[337,-.00648],[338.2,-.00632],[339.4,-.00618],[341,-.00614],[342.7,-.0061],[344,-.00603],[345.2,-.00596],
[349.5,-.00601],[351.1,-.0059],[352.8,-.00583],[354.4,-.00577],[356,-.00575],[357.7,-.00573],[359.4,-.0057],[361.1,-.00566],[362.7,-.00562],[364.4,-.00558],[366,-.00549],[367.7,-.00543],[369.4,-.0054],[371,-.00536],[372.7,-.00538],[374.3,-.0054],[376,-.0053],[377.6,-.00521],[379.3,-.00518],[381,-.00514],[382.6,-.00512],[384.3,-.0051],[386,-.00505],[387.6,-.00499],[389.3,-.005],[390.9,-.00502],[392.5,-.00504],[394.2,-.00506],[395.9,-.00498],[397.5,-.00491],[399.2,-.0048],[401,-.00476],[402.5,-.0047],[404.2,-.00465],[405.9,-.0047],[407.5,-.00473],[410,-.0047],[412.5,-.00469],[415,-.00467],[417.4,-.00465],[419,-.00466],[420.8,-.00465],[423.2,-.00454],[424.9,-.00433],[427,-.00436],[429,-.0043],[430.7,-.00432],[432.4,-.00443],[434,-.0043],[435.7,-.00421],[437.3,-.00406],[439,-.00418],[440.6,-.00424],[442.3,-.00418],[444,-.00413],[445.6,-.0041],[447.3,-.00409],[449,-.00408],[450.6,-.00406],[452.2,-.004],[453.9,-.00394],[455.5,-.0039],[457.2,-.00387],[458.8,-.0039],[460.5,-.00394],[462.2,-.00388],[463.9,-.00383],[465.5,-.0038],[467.2,-.00376],[469.7,-.00378],[472.2,-.0038],[474.6,-.00381],[477.1,-.0038],[479.6,-.00378],[482.1,-.00376],[484.6,-.00374],[487.1,-.00372],[489.5,-.0037],[492,-.00368],[494.5,-.00366],[497,-.00365],[499.5,-.00363],[502,-.00361],[504.5,-.0037],[507,-.00383],[509.5,-.00368],[511.9,-.00357],[514.4,-.0036],[516.9,-.00361],[519.4,-.00365],[521.9,-.00368],[524.4,-.00366],[526.9,-.00365],[529.4,-.00363],[531.8,-.00361],[534,-.00364]];
const INSET_7=[[158,-.0034],[161,-.0035],[164,-.0034],[167,-.0036],[170,-.0035],[173,-.0034],[176,-.0035],[179,-.0036],[182,-.0034],[185,-.0035],[188,-.0034],[191,-.0035],[194,-.0036],[197,-.0035],[200,-.0034],[203,-.0035],[206,-.0037],[209,-.0036],[212,-.0035],[215,-.0034],[218,-.0036],[221,-.0035],[224,-.0037],[227,-.0035],[230,-.0036],[233,-.0034],[236,-.0035],[239,-.0036],[241,-.0036],
[242,-.00383],[243,-.00402],[244,-.00443],[245,-.00458],[246,-.00482],[247.7,-.00521],[248.7,-.0056],[249.6,-.00594],[250.3,-.00633],[251.5,-.00664],[252.7,-.00672],[253.5,-.00696],[254.5,-.0073],[255.5,-.00737],[256.9,-.00769],[258,-.00801],[259.5,-.00849],[260.7,-.00882],[263.2,-.0089],[263.5,-.00914],[264.8,-.00946],[266.1,-.0096],[268.6,-.0097],[267.5,-.00978],[269.5,-.00994],[270.8,-.01001],[272,-.01042],[273.6,-.01057],[275.3,-.01063],[276.9,-.01073],[279.4,-.01096],[277.7,-.01106],[281.1,-.01113],[281.5,-.01121],[282.7,-.01137],[284.7,-.01154],[287.7,-.01162],[292.7,-.01162],[283.6,-.01171],[288.5,-.01176],[297.7,-.01169],[301,-.01171],[295.2,-.01186],[303.5,-.01191],[296,-.01201],[305.1,-.01199],[307.6,-.01208],[308.4,-.01218],[313.4,-.01218],[311.7,-.01199],[315,-.01186],[318.4,-.01208],[320.9,-.01193],[323.3,-.01184],[322.5,-.01171],[326.7,-.01176],[329.2,-.01169],[332,-.01184],[330.8,-.01154],[333.3,-.01162],[334.1,-.01136],[335.8,-.01128],[338.3,-.01111],[340.8,-.01104],[342.4,-.01091],[344.9,-.01082],[349.1,-.01065],[349.1,-.0105],[350.7,-.01035],[352.4,-.01024],[354,-.01013],[356.5,-.01001],[358.2,-.00994],[359.8,-.00975],[361.5,-.0096],[364,-.00953],[366.5,-.00942],[368.9,-.00933],[371.4,-.00919],[373.9,-.00906],[376.4,-.00893],[378.9,-.00886],[381.4,-.00871],[384.7,-.0086],[386.4,-.00847],[388.8,-.00834],[390.5,-.00823],[394.6,-.00816],[398,-.00802],[399.2,-.00784],[400.9,-.00769],[403.3,-.0076],[405.8,-.00752],[405,-.00737],[409.1,-.0073],[413.3,-.0072],[414.1,-.00705],[417.4,-.00696],[419.9,-.00681],[421.6,-.00664],[423.2,-.00642],[427.4,-.0064],[425.7,-.00625],[429,-.00616],[431.5,-.00609],[433.2,-.00596],[436.5,-.00592],[439,-.00581],[441.5,-.0057],[444.8,-.00594],[444,-.00577],[447.3,-.00555],[449.8,-.00549],[453.9,-.00549],[455.6,-.00543],[458.1,-.0053],[462.2,-.00525],[465.5,-.00515],[464.7,-.00536],[470.5,-.00504],[473.8,-.00497],[478,-.00506],[478.8,-.00491],[482.1,-.00488],[485.4,-.0048],[488.7,-.00486],[492,-.00497],[493.7,-.00469],[497,-.00465],[501.2,-.00471],[505.3,-.00482],[505.3,-.00443],[507.8,-.00435],[511.9,-.00439],[515.3,-.00428],[518.6,-.00426],[523.5,-.00409],[526.9,-.0042],[531.8,-.00411],[534.3,-.00424]];

// ================= CHART =================
const W=2112,H=1324;
const FONT='"DejaVu Sans", sans-serif';
const ANNOT_FONT='"Liberation Sans", Arial, sans-serif';
const svg=d3.select('#chart');

const SYM={
 plus:s=>`M${-s},0H${s}M0,${-s}V${s}`,
 cross:s=>`M${-s},${-s}L${s},${s}M${-s},${s}L${s},${-s}`,
 star:s=>{const k=s*0.8;return `M${-s},0H${s}M0,${-s}V${s}M${-k},${-k}L${k},${k}M${-k},${k}L${k},${-k}`;},
 square:s=>`M${-s},${-s}H${s}V${s}H${-s}Z`,
 circle:s=>`M${-s},0A${s},${s} 0 1,0 ${s},0A${s},${s} 0 1,0 ${-s},0Z`,
 triUp:s=>`M0,${-s}L${s},${s*0.78}L${-s},${s*0.78}Z`,
 triDown:s=>`M0,${s}L${s},${-s*0.78}L${-s},${-s*0.78}Z`
};

function seg(x0,step,ys){return ys.map((v,i)=>({x:x0+i*step,y:v}));}
function pairs(a){return a.map(p=>({x:p[0],y:p[1]}));}

const MAIN_SERIES=[
 {label:SERIES_NAMES[0],pts:[...seg(0,5,S11_PRE),...seg(240,5,S11_DIP),...seg(505,5,S11_POST),...pairs(S11_EXTRA)],color:'#ff0000',sym:'plus',size:5.2,fill:false},
 {label:SERIES_NAMES[1],pts:[...seg(0,5,S10_PRE),...seg(240,5,S10_DIP),...seg(505,5,S10_POST),...pairs(S10_EXTRA)],color:'#11ee11',sym:'cross',size:4.7,fill:false},
 {label:SERIES_NAMES[2],pts:[...seg(0,5,S9_PRE),...seg(240,5,S9_DIP),...seg(505,5,S9_POST),...pairs(S9_EXTRA)],color:'#0000ff',sym:'star',size:5.2,fill:false},
 {label:SERIES_NAMES[3],pts:[...seg(0,5,S8_PRE),...seg(240,5,S8_DIP),...seg(505,5,S8_POST),...pairs(S8_EXTRA)],color:'#ff00ff',sym:'square',size:4.1,fill:false},
 {label:SERIES_NAMES[4],pts:[...seg(0,5,S7_PRE),...seg(240,5,S7_DIP),...seg(505,10,S7_POST),...pairs(S7_EXTRA)],color:'#00ffff',sym:'square',size:4.5,fill:true},
 {label:SERIES_NAMES[5],pts:[...seg(0,10,S6_PRE),...seg(240,5,S6_DIP),...seg(505,10,S6_POST),...pairs(S6_EXTRA)],color:'#fff000',sym:'circle',size:4.1,fill:false},
 {label:SERIES_NAMES[6],pts:[...seg(0,5,S5_PRE),...seg(240,5,S5_DIP),...seg(505,5,S5_POST),...pairs(S5_EXTRA)],color:'#000000',sym:'circle',size:3.6,fill:true},
 {label:SERIES_NAMES[7],pts:[...seg(0,10,S4_PRE),...seg(240,5,S4_DIP),...seg(505,10,S4_POST),...pairs(S4_EXTRA)],color:'#ff5500',sym:'triUp',size:4.6,fill:false},
 {label:SERIES_NAMES[8],pts:[...seg(0,5,S3_PRE),...seg(240,5,S3_DIP),...seg(505,5,S3_POST),...pairs(S3_EXTRA)],color:'#858585',sym:'triUp',size:4.7,fill:true},
 {label:SERIES_NAMES[9],pts:[...seg(0,5,S2_PRE),...seg(240,5,S2_DIP),...seg(505,5,S2_POST),...pairs(S2_EXTRA)],color:'#ff0000',sym:'triDown',size:4.9,fill:true}
];
const INSET_SERIES=[
 {pts:pairs(INSET_11),color:'#ff0000',sym:'plus',size:6,fill:false},
 {pts:pairs(INSET_10),color:'#11ee11',sym:'cross',size:5.5,fill:false},
 {pts:pairs(INSET_9),color:'#0000ff',sym:'star',size:5.5,fill:false},
 {pts:pairs(INSET_8),color:'#ff00ff',sym:'square',size:4.4,fill:false},
 {pts:pairs(INSET_7),color:'#00ffff',sym:'square',size:4.4,fill:true}
];

function drawMarkers(g,pts,sx,sy,st){
 g.append('g').selectAll('path').data(pts).join('path')
  .attr('transform',d=>`translate(${sx(d.x).toFixed(1)},${sy(d.y).toFixed(1)})`)
  .attr('d',SYM[st.sym](st.size))
  .attr('fill',st.fill?st.color:'none')
  .attr('stroke',st.fill?'none':st.color)
  .attr('stroke-width',1.45);
}

svg.append('rect').attr('width',W).attr('height',H).attr('fill','#ffffff');

// ---------- main plot ----------
const P={left:80,right:2087,top:16.7,bottom:992};
const x=d3.scaleLinear().domain([0,1000]).range([P.left,P.right]);
const y=d3.scaleLinear().domain([-0.16,0.02]).range([P.bottom,P.top]);
const main=svg.append('g');

function styleGrid(g){g.select('.domain').remove();g.selectAll('text').remove();g.selectAll('line').attr('stroke','#9c9c9c').attr('stroke-width',1).attr('stroke-dasharray','1.5,3.5');}
main.append('g').attr('transform',`translate(0,${P.bottom})`)
 .call(d3.axisBottom(x).tickValues(X_TICKS).tickSize(-(P.bottom-P.top)).tickFormat(''))
 .call(styleGrid);
main.append('g').attr('transform',`translate(${P.left},0)`)
 .call(d3.axisLeft(y).tickValues(Y_TICKS).tickSize(-(P.right-P.left)).tickFormat(''))
 .call(styleGrid);

function styleAxis(g){g.select('.domain').remove();g.selectAll('line').attr('stroke','#333').attr('stroke-width',1.2);
 g.selectAll('text').attr('fill','#1e1e1e').style('font-family',FONT).style('font-size','16px');}
main.append('g').attr('transform',`translate(0,${P.bottom})`)
 .call(d3.axisBottom(x).tickValues(X_TICKS).tickFormat((d,i)=>X_TICK_LABELS[i]).tickSize(-9.5).tickPadding(19)).call(styleAxis);
main.append('g').attr('transform',`translate(0,${P.top})`)
 .call(d3.axisTop(x).tickValues(X_TICKS).tickFormat('').tickSize(-9.5)).call(styleAxis);
main.append('g').attr('transform',`translate(${P.left},0)`)
 .call(d3.axisLeft(y).tickValues(Y_TICKS).tickFormat((d,i)=>Y_TICK_LABELS[i]).tickSize(-9.5).tickPadding(12)).call(styleAxis);
main.append('g').attr('transform',`translate(${P.right},0)`)
 .call(d3.axisRight(y).tickValues(Y_TICKS).tickFormat('').tickSize(-9.5)).call(styleAxis);
main.append('rect').attr('x',P.left).attr('y',P.top).attr('width',P.right-P.left).attr('height',P.bottom-P.top)
 .attr('fill','none').attr('stroke','#333').attr('stroke-width',1.2);

// legend (drawn before data, as gnuplot does)
const LEG={textX:2000,symX:2041,y0:37,dy:22.4};
MAIN_SERIES.forEach((s,i)=>{
 const cy=LEG.y0+i*LEG.dy;
 main.append('text').attr('x',LEG.textX).attr('y',cy+6).attr('text-anchor','end')
  .style('font-family',FONT).style('font-size','16px').attr('fill','#1e1e1e').text(s.label);
 main.append('path').attr('transform',`translate(${LEG.symX},${cy})`).attr('d',SYM[s.sym](s.size))
  .attr('fill',s.fill?s.color:'none').attr('stroke',s.fill?'none':s.color).attr('stroke-width',1.45);
});

// data
MAIN_SERIES.forEach(s=>drawMarkers(main,s.pts,x,y,s));

// ---------- page background band ----------
svg.append('rect').attr('x',0).attr('y',1037).attr('width',W).attr('height',H-1037).attr('fill','#ffff99');

// ---------- annotations on main plot ----------
svg.append('ellipse').attr('cx',748.5).attr('cy',182).attr('rx',206.5).attr('ry',144.5)
 .attr('fill','none').attr('stroke','#ff0000').attr('stroke-width',7);
svg.append('path').attr('d','M430,237H445V548H460.5L437.5,613L414.5,548H430Z').attr('fill','#330099');
svg.append('text').attr('transform','translate(415,401.5) rotate(-90)').attr('text-anchor','middle')
 .style('font-family',ANNOT_FONT).style('font-size','48px').attr('fill','#ff3a10').text('Led intensity');

// ---------- inset frame ----------
svg.append('rect').attr('x',1164).attr('y',222).attr('width',908).attr('height',1120)
 .attr('fill','#669933').attr('stroke','#4472c4').attr('stroke-width',1.2);
const IN={left:1239,right:1995,top:276,bottom:1324};
svg.append('rect').attr('x',IN.left).attr('y',IN.top).attr('width',IN.right-IN.left).attr('height',IN.bottom-IN.top).attr('fill','#ffffff');
svg.append('clipPath').attr('id','insetClip').append('rect')
 .attr('x',IN.left).attr('y',IN.top).attr('width',IN.right-IN.left).attr('height',IN.bottom-IN.top);
const inset=svg.append('g').attr('clip-path','url(#insetClip)');
const IP={top:296,bottom:1281};
const xi=d3.scaleLinear().domain([200,500]).range([1322,1925]);
const yi=d3.scaleLinear().domain([-0.013,-0.002]).range([IP.bottom,IP.top]);

inset.append('g').attr('transform',`translate(0,${IP.bottom})`)
 .call(d3.axisBottom(xi).tickValues(INSET_X_TICKS).tickSize(-(IP.bottom-IP.top)).tickFormat('')).call(styleGrid);
inset.append('g').attr('transform',`translate(${IN.left},0)`)
 .call(d3.axisLeft(yi).tickValues(INSET_Y_TICKS).tickSize(-(IN.right-IN.left)).tickFormat('')).call(styleGrid);
inset.append('g').attr('transform',`translate(0,${IP.bottom})`)
 .call(d3.axisBottom(xi).tickValues(INSET_X_TICKS).tickFormat((d,i)=>INSET_X_TICK_LABELS[i]).tickSize(-10).tickPadding(20)).call(styleAxis);
inset.append('g').attr('transform',`translate(0,${IP.top})`)
 .call(d3.axisTop(xi).tickValues(INSET_X_TICKS).tickFormat('').tickSize(-10)).call(styleAxis);
[IP.top,IP.bottom].forEach(yy=>inset.append('line').attr('x1',IN.left).attr('x2',IN.right).attr('y1',yy).attr('y2',yy)
 .attr('stroke','#3a3a3a').attr('stroke-width',1.6));
INSET_SERIES.forEach(s=>drawMarkers(inset,s.pts,xi,yi,s));

// ---------- zoom arrow & label ----------
(function(){
 const S=[892,301],T=[1285,463.3];
 const L=Math.hypot(T[0]-S[0],T[1]-S[1]);
 const u=[(T[0]-S[0])/L,(T[1]-S[1])/L],n=[-u[1],u[0]];
 const hw=8.7,hl=66,hh=22.5;
 const B=[T[0]-u[0]*hl,T[1]-u[1]*hl];
 const p=(o,a,b)=>[o[0]+n[0]*a+u[0]*b,o[1]+n[1]*a+u[1]*b];
 const pts=[p(S,hw,0),p(B,hw,0),p(B,hh,0),T,p(B,-hh,0),p(B,-hw,0),p(S,-hw,0)];
 svg.append('path').attr('d','M'+pts.map(q=>q[0].toFixed(1)+','+q[1].toFixed(1)).join('L')+'Z').attr('fill','#ff0000');
})();
svg.append('text').attr('x',986).attr('y',324).style('font-family',ANNOT_FONT).style('font-size','47px').attr('fill','#000').text('Zoom');
</script>
</body></html>
